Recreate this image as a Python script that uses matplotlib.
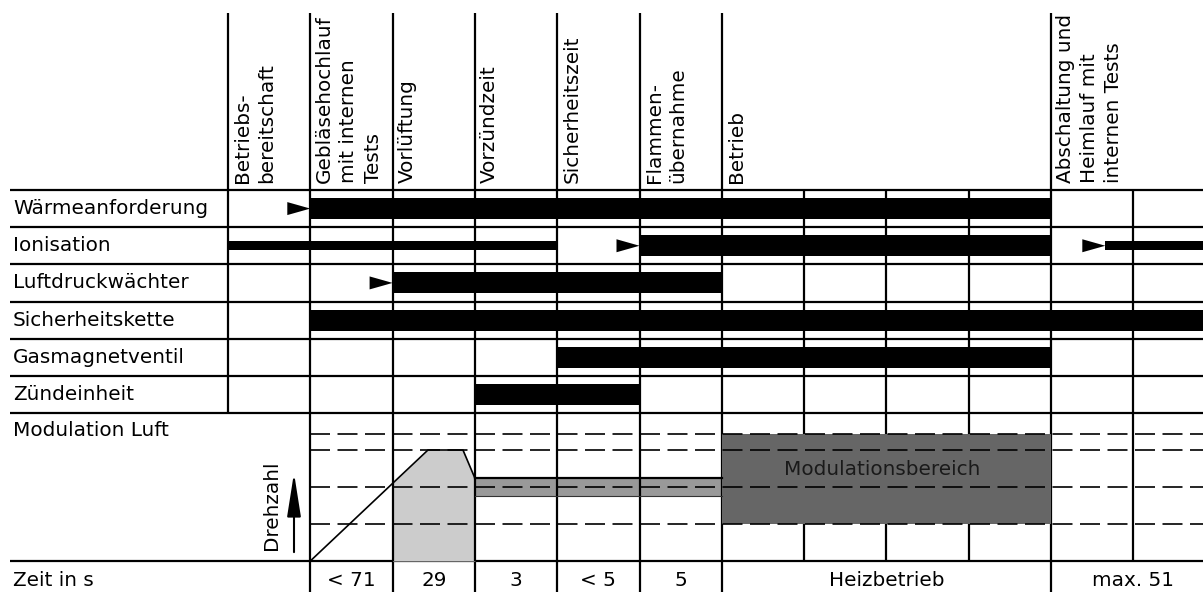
import numpy as np
import matplotlib
matplotlib.use("Agg")
import matplotlib.pyplot as plt

plt.rcParams['font.family'] = ['DejaVu Sans']

# ---------------- data ----------------
phases = ["Betriebs-\nbereitschaft", "Gebläsehochlauf\nmit internen\nTests", "Vorlüftung",
          "Vorzündzeit", "Sicherheitszeit", "Flammen-\nübernahme", "Betrieb",
          "Abschaltung und\nHeimlauf mit\ninternen Tests"]
phase_start = [0, 1, 2, 3, 4, 5, 6, 10]

signals = ["Wärmeanforderung", "Ionisation", "Luftdruckwächter", "Sicherheitskette",
           "Gasmagnetventil", "Zündeinheit"]
on_start = [1, 5, 2, 1, 4, 3]
on_end = [10, 10, 6, 12, 10, 5]

weak_signal = [1, 1]
weak_start = [0, 10.66]
weak_end = [4, 12]

trigger_signal = [0, 1, 2, 1]
trigger_time = [1, 5, 2, 10.66]

speed_levels = [0.25, 0.5, 0.75, 0.86]
ramp_t = [1, 2.43, 2.855, 3]
ramp_speed = [0, 0.75, 0.75, 0.56]
ignition_t = [3, 6]
ignition_low, ignition_high = 0.44, 0.56
modulation_t = [6, 10]
modulation_low, modulation_high = 0.25, 0.86

time_labels = ["< 71", "29", "3", "< 5", "5", "Heizbetrieb", "max. 51"]
time_start = [1, 2, 3, 4, 5, 6, 10]
time_end = [2, 3, 4, 5, 6, 10, 12]

# ---------------- layout ----------------
W, H = 1203, 592
X0, CW = 228, 82.3
def u(px):
    return (px - X0) / CW

HEAD_TOP, TOP = 13, 190
MOD_TOP, MOD_BOT = 413, 561
RH = (MOD_TOP - TOP) / len(signals)
FS = 14.4
LW = 1.6
XMIN, XMAX = u(0), u(W)

fig = plt.figure(figsize=(W / 100, H / 100), dpi=100)
ax = fig.add_axes([0, 0, 1, 1])
ax.set_xlim(XMIN, XMAX)
ax.set_ylim(H, 0)
ax.axis('off')

line_kw = dict(color='black', lw=LW, solid_capstyle='butt')

# horizontal lines
for y in [TOP + i * RH for i in range(len(signals) + 1)] + [MOD_BOT]:
    ax.plot([u(10), XMAX], [y, y], **line_kw)

# header verticals + text
for t, lab in zip(phase_start, phases):
    ax.plot([t, t], [HEAD_TOP, TOP], **line_kw)
    ax.text(t + 5 / CW, 183, lab, rotation=90, rotation_mode='anchor',
            ha='left', va='top', fontsize=FS, linespacing=1.34, multialignment='left')

# signal rows verticals
for t in range(0, 12):
    ax.plot([t, t], [TOP, MOD_TOP], **line_kw)

# time row verticals
for t in time_start:
    ax.plot([t, t], [MOD_BOT, H], **line_kw)

# signal labels and bars
for i, name in enumerate(signals):
    yc = TOP + (i + 0.5) * RH
    ax.text(u(13), yc, name, va='center', ha='left', fontsize=FS)
    ax.barh(yc, on_end[i] - on_start[i], left=on_start[i], height=21,
            color='black', zorder=3)

for s, a, b in zip(weak_signal, weak_start, weak_end):
    yc = TOP + (s + 0.5) * RH
    ax.barh(yc, b - a, left=a, height=9, color='black', zorder=3)

for s, t in zip(trigger_signal, trigger_time):
    yc = TOP + (s + 0.5) * RH
    ax.fill([t - 23 / CW, t - 23 / CW, t], [yc - 6.5, yc + 6.5, yc],
            color='black', zorder=3, lw=0)

ax.text(u(13), 431, "Modulation Luft", va='center', ha='left', fontsize=FS)
ax.text(u(13), 580, "Zeit in s", va='center', ha='left', fontsize=FS)
for lab, a, b in zip(time_labels, time_start, time_end):
    ax.text((a + b) / 2, 580, lab, va='center', ha='center', fontsize=FS)

# ---------------- modulation section ----------------
ax2 = fig.add_axes([0, (H - MOD_BOT) / H, 1, (MOD_BOT - MOD_TOP) / H])
ax2.set_xlim(XMIN, XMAX)
ax2.set_ylim(0, 1)
ax2.axis('off')
ax2.patch.set_visible(False)

for t in range(1, 12):
    ax2.plot([t, t], [0, 1], zorder=2, **line_kw)

fill_t = [2] + [t for t in ramp_t if t > 2]
fill_s = [np.interp(2, ramp_t, ramp_speed)] + [s for t, s in zip(ramp_t, ramp_speed) if t > 2]
ax2.fill_between(fill_t, 0, fill_s, color='#cccccc', lw=0, zorder=1)

ax2.fill_between(ignition_t, ignition_low, ignition_high, color='#999999', lw=0, zorder=1)
ax2.plot(ignition_t, [ignition_high] * 2, color='black', lw=1.6, zorder=5)
ax2.plot(ignition_t, [ignition_low] * 2, color='#333333', lw=0.8, zorder=5)

ax2.fill_between(modulation_t, modulation_low, modulation_high, color='#666666',
                 lw=0, zorder=3)

for s in speed_levels:
    ax2.plot([1, XMAX], [s, s], color='black', lw=1.2, linestyle=(0, (12, 4.5)), zorder=4)

ax2.plot(ramp_t, ramp_speed, color='black', lw=1.2, zorder=5)

ax2.text(7.95, 0.615, "Modulationsbereich", ha='center', va='center',
         fontsize=FS, color='#1a1a1a', zorder=6)

ax2.text(u(271), (MOD_BOT - 550) / (MOD_BOT - MOD_TOP), "Drehzahl", rotation=90,
         rotation_mode='anchor', ha='left', va='center', fontsize=FS)
ax2.annotate('', xy=(u(294), 0.595), xytext=(u(294), 0.06),
             arrowprops=dict(arrowstyle='-|>,head_length=2.66,head_width=0.42',
                             mutation_scale=10, lw=1.5, color='black',
                             shrinkA=0, shrinkB=0))

fig.savefig("out.png", dpi=100)
